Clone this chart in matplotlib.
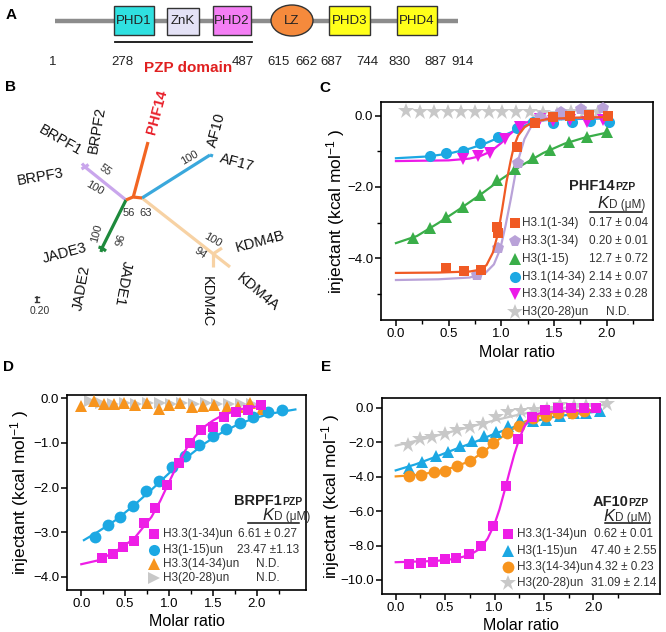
import numpy as np
import matplotlib
matplotlib.use("Agg")
from matplotlib import pyplot as plt
from matplotlib.patches import Rectangle, Ellipse

plt.rcParams['font.family'] = ['Liberation Sans', 'DejaVu Sans']
plt.rcParams['mathtext.fontset'] = 'custom'
plt.rcParams['mathtext.rm'] = 'Liberation Sans'
plt.rcParams['mathtext.it'] = 'Liberation Sans:italic'

# ---------------- data ----------------
# A: PHF14 domain architecture
domain_names = ['PHD1', 'ZnK', 'PHD2', 'LZ', 'PHD3', 'PHD4']
domain_colors = ['#2fe0e0', '#e4e2f6', '#f47ef4', '#f58a3c', '#ffff1a', '#ffff1a']
residue_marks = ['1', '278', '487', '615', '662', '687', '744', '830', '887', '914']

# B: tree leaves and bootstrap values
leaf_names = ['PHF14', 'AF10', 'AF17', 'BRPF1', 'BRPF2', 'BRPF3',
              'JADE1', 'JADE2', 'JADE3', 'KDM4A', 'KDM4B', 'KDM4C']
bootstrap = ['55', '100', '100', '56', '63', '100', '96', '100', '94']

# C: PHF14 PZP
c_names = ['H3.1(1-34)', 'H3.3(1-34)', 'H3(1-15)', 'H3.1(14-34)', 'H3.3(14-34)', 'H3(20-28)un']
c_kd = ['0.17 ± 0.04', '0.20 ± 0.01', '12.7 ± 0.72', '2.14 ± 0.07', '2.33 ± 0.28', 'N.D.']

c_h31_x = [0.48, 0.645, 0.81, 0.955, 0.97, 1.146, 1.32, 1.49, 1.65, 1.83, 2.01]
c_h31_y = [-4.29, -4.37, -4.34, -3.12, -3.29, -0.86, -0.21, -0.04, 0.0, 0.03, 0.0]
c_h31_fx = [0, 0.4, 0.7, 0.8, 0.86, 0.92, 0.97, 1.01, 1.05, 1.09, 1.12, 1.16, 1.22, 1.3, 1.45, 1.7, 2.0]
c_h31_fy = [-4.42, -4.41, -4.38, -4.33, -4.2, -3.85, -3.3, -2.6, -1.85, -1.25, -0.86, -0.55, -0.32, -0.17, -0.08, -0.05, -0.03]

c_h33_x = [0.766, 0.97, 1.16, 1.37, 1.57, 1.76, 1.97]
c_h33_y = [-4.48, -3.73, -1.33, -0.02, 0.12, 0.19, 0.22]
c_h33_fx = [0, 0.4, 0.7, 0.85, 0.93, 0.99, 1.04, 1.09, 1.13, 1.17, 1.22, 1.28, 1.35, 1.5, 1.7, 2.0]
c_h33_fy = [-4.62, -4.6, -4.55, -4.42, -4.18, -3.75, -3.1, -2.35, -1.7, -1.15, -0.65, -0.32, -0.15, -0.07, -0.05, -0.04]

c_h3_15_x = [0.165, 0.32, 0.475, 0.64, 0.8, 0.96, 1.13, 1.3, 1.46, 1.64, 1.81, 2.0]
c_h3_15_y = [-3.45, -3.16, -2.84, -2.55, -2.23, -1.8, -1.5, -1.17, -0.96, -0.72, -0.58, -0.45]
c_h3_15_fx = [0, 0.2, 0.4, 0.6, 0.8, 1.0, 1.2, 1.4, 1.6, 1.8, 2.0]
c_h3_15_fy = [-3.58, -3.38, -3.02, -2.63, -2.22, -1.78, -1.38, -1.04, -0.78, -0.6, -0.47]

c_h31b_x = [0.32, 0.475, 0.64, 0.8, 0.97, 1.146, 1.3, 1.49, 1.67, 1.84, 2.02]
c_h31b_y = [-1.13, -1.03, -0.98, -0.77, -0.6, -0.35, -0.16, -0.19, -0.16, -0.13, -0.17]
c_h31b_fx = [0, 0.3, 0.5, 0.7, 0.85, 1.0, 1.1, 1.2, 1.3, 1.4, 1.6, 2.0]
c_h31b_fy = [-1.19, -1.14, -1.06, -0.92, -0.77, -0.58, -0.45, -0.3, -0.18, -0.12, -0.09, -0.07]

c_h33b_x = [0.64, 0.78, 0.89, 1.035, 1.18, 1.37, 1.49, 1.65, 1.81, 1.97]
c_h33b_y = [-1.22, -1.13, -1.03, -0.66, -0.3, -0.09, -0.13, -0.11, -0.16, -0.11]
c_h33b_fx = [0, 0.5, 0.7, 0.8, 0.9, 1.0, 1.08, 1.15, 1.22, 1.3, 1.45, 1.7, 2.05]
c_h33b_fy = [-1.27, -1.25, -1.2, -1.13, -1.0, -0.76, -0.52, -0.34, -0.2, -0.12, -0.07, -0.06, -0.05]

c_h3_20_x = [0.1, 0.23, 0.36, 0.49, 0.62, 0.75, 0.88, 1.01, 1.14, 1.27, 1.4, 1.53, 1.66, 1.79, 1.92]
c_h3_20_y = [0.13, 0.12, 0.12, 0.12, 0.12, 0.12, 0.12, 0.12, 0.12, 0.12, 0.08, 0.06, 0.1, 0.1, 0.1]

# D: BRPF1 PZP
d_names = ['H3.3(1-34)un', 'H3(1-15)un', 'H3.3(14-34)un', 'H3(20-28)un']
d_kd = ['6.61 ± 0.27', '23.47 ±1.13', 'N.D.', 'N.D.']

d_h33_x = [0.235, 0.357, 0.474, 0.596, 0.717, 0.84, 0.975, 1.108, 1.24, 1.366, 1.5, 1.628, 1.765, 1.905, 2.045]
d_h33_y = [-3.57, -3.48, -3.33, -3.19, -2.79, -2.47, -1.94, -1.46, -1.01, -0.71, -0.64, -0.43, -0.3, -0.26, -0.15]
d_h33_fx = [0, 0.2, 0.4, 0.6, 0.8, 0.9, 1.0, 1.1, 1.2, 1.3, 1.4, 1.5, 1.6, 1.8, 2.0, 2.06]
d_h33_fy = [-3.72, -3.63, -3.42, -3.15, -2.66, -2.3, -1.88, -1.47, -1.12, -0.85, -0.64, -0.5, -0.39, -0.25, -0.18, -0.17]

d_h3_15_x = [0.16, 0.3, 0.444, 0.588, 0.736, 0.88, 1.03, 1.18, 1.343, 1.5, 1.65, 1.81, 1.96, 2.13, 2.29]
d_h3_15_y = [-3.12, -2.84, -2.67, -2.41, -2.07, -1.85, -1.53, -1.29, -1.05, -0.845, -0.69, -0.56, -0.43, -0.31, -0.26]
d_h3_15_fx = [0.03, 0.2, 0.4, 0.6, 0.8, 1.0, 1.2, 1.4, 1.6, 1.8, 2.0, 2.2, 2.44]
d_h3_15_fy = [-3.18, -2.98, -2.72, -2.4, -2.05, -1.68, -1.33, -1.02, -0.77, -0.57, -0.43, -0.33, -0.25]

d_h33b_x = [0.0, 0.14, 0.254, 0.376, 0.49, 0.615, 0.748, 0.88, 0.994, 1.127, 1.26, 1.385, 1.51, 1.66, 1.79, 1.925, 2.057]
d_h33b_y = [-0.17, -0.06, -0.13, -0.13, -0.1, -0.15, -0.1, -0.25, -0.15, -0.1, -0.19, -0.17, -0.15, -0.2, -0.2, -0.11, -0.25]

d_h3_20_x = [0.1, 0.23, 0.36, 0.5, 0.62, 0.76, 0.9, 1.02, 1.15, 1.28, 1.42, 1.55, 1.68, 1.82, 1.95]
d_h3_20_y = [-0.07, -0.1, -0.12, -0.1, -0.12, -0.1, -0.1, -0.12, -0.1, -0.12, -0.1, -0.12, -0.12, -0.13, -0.12]

# E: AF10 PZP
e_names = ['H3.3(1-34)un', 'H3(1-15)un', 'H3.3(14-34)un', 'H3(20-28)un']
e_kd = ['0.62 ± 0.01', '47.40 ± 2.55', '4.32 ± 0.23', '31.09 ± 2.14']

e_h33_x = [0.135, 0.26, 0.378, 0.497, 0.615, 0.743, 0.868, 0.986, 1.12, 1.24, 1.375, 1.51, 1.645, 1.77, 1.905, 2.03]
e_h33_y = [-9.09, -9.03, -8.97, -8.8, -8.7, -8.5, -8.02, -6.85, -4.56, -1.81, -0.52, -0.14, -0.02, -0.02, -0.02, -0.02]
e_h33_fx = [0, 0.4, 0.6, 0.75, 0.85, 0.93, 1.0, 1.05, 1.1, 1.15, 1.2, 1.25, 1.3, 1.36, 1.45, 1.6, 1.8, 2.07]
e_h33_fy = [-8.97, -8.9, -8.78, -8.55, -8.2, -7.6, -6.75, -5.9, -4.85, -3.75, -2.7, -1.8, -1.1, -0.6, -0.32, -0.2, -0.16, -0.15]

e_h3_15_x = [0.135, 0.27, 0.405, 0.53, 0.65, 0.767, 0.89, 1.01, 1.14, 1.26, 1.39, 1.52, 1.66, 1.8, 1.925, 2.07]
e_h3_15_y = [-3.5, -3.17, -2.78, -2.56, -2.23, -1.94, -1.61, -1.42, -1.07, -0.68, -0.78, -0.68, -0.45, -0.29, -0.29, -0.19]
e_h3_15_fx = [0, 0.2, 0.4, 0.6, 0.8, 1.0, 1.2, 1.4, 1.6, 1.8, 2.07]
e_h3_15_fy = [-3.63, -3.28, -2.85, -2.4, -1.98, -1.5, -1.1, -0.78, -0.52, -0.35, -0.2]

e_h33b_x = [0.135, 0.26, 0.385, 0.497, 0.62, 0.75, 0.87, 0.986, 1.128, 1.25, 1.385, 1.52, 1.645, 1.78, 1.905]
e_h33b_y = [-3.98, -3.88, -3.75, -3.65, -3.36, -3.07, -2.58, -2.04, -1.46, -1.07, -0.58, -0.45, -0.29, -0.29, -0.16]
e_h33b_fx = [0, 0.2, 0.4, 0.5, 0.6, 0.7, 0.8, 0.9, 1.0, 1.1, 1.2, 1.3, 1.4, 1.5, 1.7, 2.07]
e_h33b_fy = [-3.98, -3.9, -3.73, -3.6, -3.42, -3.2, -2.9, -2.5, -2.02, -1.57, -1.17, -0.82, -0.55, -0.37, -0.2, -0.1]

e_h3_20_x = [0.125, 0.25, 0.37, 0.497, 0.62, 0.75, 0.88, 1.01, 1.14, 1.27, 1.4, 1.53, 1.66, 1.8, 1.93, 2.135]
e_h3_20_y = [-2.14, -1.81, -1.69, -1.5, -1.26, -1.11, -0.93, -0.52, -0.25, -0.16, -0.1, -0.06, 0.19, 0.14, 0.1, 0.25]
e_h3_20_fx = [0, 0.25, 0.5, 0.75, 1.0, 1.25, 1.5, 1.75, 2.0, 2.15]
e_h3_20_fy = [-2.19, -1.85, -1.48, -1.1, -0.72, -0.38, -0.12, 0.04, 0.14, 0.19]

# ---------------- figure ----------------
W, H = 666, 632
fig = plt.figure(figsize=(6.66, 6.32), dpi=100)
bg = fig.add_axes([0, 0, 1, 1])
bg.set_xlim(0, W)
bg.set_ylim(H, 0)
bg.axis('off')

def px_axes(l, t, r, b):
    return fig.add_axes([l / W, 1 - b / H, (r - l) / W, (b - t) / H])

for lab, x, y in [('A', 11, 15), ('B', 11, 87), ('C', 325, 88), ('D', 8, 367), ('E', 326, 367)]:
    bg.text(x, y, lab, ha='center', va='center', fontsize=11, fontweight='bold')

# ---- A ----
bg.plot([55, 458], [21, 21], color='#8c8c8c', lw=3.2, solid_capstyle='butt', zorder=1)
slots = [(114, 154), (167, 199), (213, 251), (271, 313), (329, 370), (397, 437)]
for name, col, (x0, x1) in zip(domain_names, domain_colors, slots):
    if name == 'LZ':
        bg.add_patch(Ellipse(((x0 + x1) / 2, 20.5), x1 - x0, 31, fc=col, ec='#333333', lw=1, zorder=2))
    else:
        top = 8 if name == 'ZnK' else 6
        bg.add_patch(Rectangle((x0, top), x1 - x0, 35 - top, fc=col, ec='#333333', lw=1, zorder=2))
    bg.text((x0 + x1) / 2, 21, name, ha='center', va='center', fontsize=9.5, color='#222222', zorder=3)
for s, x in zip(residue_marks, [53, 122, 243, 279, 306, 331, 367, 399, 435, 463]):
    bg.text(x, 62, s, ha='center', va='center', fontsize=9.5, color='#222222')
bg.plot([115, 252], [42, 42], color='#111111', lw=1.3)
bg.text(188, 68, 'PZP domain', ha='center', va='center', fontsize=11, fontweight='bold', color='#e02020')

# ---- B: tree ----
purple, orange, blue, green, tan = '#c9a6ec', '#f26522', '#3aa8dc', '#1e8a3c', '#f7d2a4'
branches = [
    (tan, [(142, 198), (230, 267)]), (tan, [(213, 254), (222, 248)]), (tan, [(213, 254), (213, 267)]),
    (purple, [(126, 200), (85, 167)]), (purple, [(85, 167), (82, 163.5)]),
    (purple, [(85, 167), (88.5, 164.5)]), (purple, [(85, 167), (81.5, 169)]),
    (blue, [(142, 198), (210, 155)]), (blue, [(210, 155), (213, 156)]),
    (green, [(126, 200), (102, 248)]), (green, [(102, 248), (98.5, 247)]),
    (green, [(102, 248), (101, 252)]), (green, [(102, 248), (106, 251)]),
    (orange, [(133, 198), (148, 142)]), (orange, [(126, 200), (133, 197), (142, 198)]),
]
for col, pts in branches:
    xs, ys = zip(*pts)
    bg.plot(xs, ys, color=col, lw=2.3, solid_capstyle='butt', zorder=2)

leaf_pos = {'PHF14': (157, 112, 75), 'AF10': (217, 130, 75), 'AF17': (237, 163, -15),
            'BRPF1': (60, 140, -30), 'BRPF2': (97, 130, 80), 'BRPF3': (40, 177, 10),
            'JADE1': (123, 283, -100), 'JADE2': (82, 288, 80), 'JADE3': (65, 253, 15),
            'KDM4A': (258, 292, -40), 'KDM4B': (260, 242, 15), 'KDM4C': (207, 302, -90)}
for name in leaf_names:
    x, y, r = leaf_pos[name]
    if name == 'PHF14':
        bg.text(x, y, name, ha='center', va='center', rotation=r, fontsize=10.5,
                fontweight='bold', color='#e8202a')
    else:
        bg.text(x, y, name, ha='center', va='center', rotation=r, fontsize=10.5, color='#111111')

boot_pos = [(105, 170, -35), (95, 188, -30), (190, 158, 30), (129, 213, 0), (146, 213, 0),
            (97, 233, 75), (117, 240, -105), (213, 240, -30), (200, 253, -35)]
for s, (x, y, r) in zip(bootstrap, boot_pos):
    bg.text(x, y, s, ha='center', va='center', rotation=r, fontsize=8, color='#333333')
bg.plot([37, 37], [297, 302], color='#333333', lw=1.2)
bg.plot([35, 39], [297, 297], color='#333333', lw=1)
bg.plot([35, 39], [302, 302], color='#333333', lw=1)
bg.text(40, 311, '0.20', ha='center', va='center', fontsize=7.5, color='#333333')

# ---- ITC panels ----
def style(ax, xlim, ylim, yt, ylab, ymin=None, xpad=3):
    ax.set_xlim(*xlim)
    ax.set_ylim(*ylim)
    ax.set_xticks([0, 0.5, 1.0, 1.5, 2.0])
    ax.set_xticklabels(['0.0', '0.5', '1.0', '1.5', '2.0'])
    ax.set_xticks(np.arange(0, 2.3, 0.25), minor=True)
    ax.set_yticks(yt)
    ax.set_yticklabels(ylab)
    if ymin is not None:
        ax.set_yticks(ymin, minor=True)
    for s in ['top', 'right', 'left', 'bottom']:
        ax.spines[s].set_linewidth(1.2)
    ax.tick_params(which='major', direction='out', length=4, width=1.1, labelsize=9.5, pad=1.5)
    ax.tick_params(which='minor', direction='out', length=3, width=1.0)
    ax.set_xlabel('Molar ratio', fontsize=11.5, labelpad=xpad)
    ax.set_ylabel('injectant (kcal mol$^{-1}$ )', fontsize=12.5)

def table(ax, title, tb, kx, kb, ul, rows, mx, nx, vx, vha, names, vals, mks, ndx=None):
    ax.text(tb[0], tb[1], title, transform=ax.transAxes, ha='right',
            va='baseline', fontsize=10.5, fontweight='bold', color='#222222')
    ax.text(tb[0], tb[1], 'PZP', transform=ax.transAxes, ha='left', va='baseline',
            fontsize=7.5, fontweight='bold', color='#222222')
    ax.text(kx, kb, 'K', transform=ax.transAxes, ha='right', va='baseline', fontsize=12,
            fontstyle='italic', color='#222222')
    ax.text(kx, kb, 'D (μM)', transform=ax.transAxes, ha='left', va='baseline', fontsize=8.5,
            color='#333333')
    ax.plot(ul[:2], [ul[2], ul[2]], transform=ax.transAxes, color='#111111', lw=1.1, clip_on=False)
    for y, n, v, (m, c, s) in zip(rows, names, vals, mks):
        ax.plot([mx], [y], marker=m, color=c, ms=s, mew=0, transform=ax.transAxes, clip_on=False)
        ax.text(nx, y, n, transform=ax.transAxes, ha='left', va='center', fontsize=8.5, color='#333333')
        if v == 'N.D.' and ndx is not None:
            ax.text(ndx, y, v, transform=ax.transAxes, ha='center', va='center', fontsize=8.5,
                    color='#333333')
        else:
            ax.text(vx, y, v, transform=ax.transAxes, ha=vha, va='center', fontsize=8.5,
                    color='#333333')

def series(ax, x, y, m, c, s, fx=None, fy=None, z=3):
    if fx is not None:
        ax.plot(fx, fy, color=c, lw=1.6, zorder=z)
    ax.plot(x, y, ls='none', marker=m, color=c, ms=s, mew=0, zorder=z + 0.5)

# C
axc = px_axes(381, 102, 653, 320)
c_red, c_lav, c_grn, c_blu, c_mag, c_gry = '#f05a24', '#b9a2d8', '#3aae49', '#1ca8e3', '#ec1ae8', '#c8c8c8'
series(axc, c_h3_20_x, c_h3_20_y, '*', c_gry, 12, z=2)
series(axc, c_h31b_x, c_h31b_y, 'o', c_blu, 8, c_h31b_fx, c_h31b_fy)
series(axc, c_h33b_x, c_h33b_y, 'v', c_mag, 8, c_h33b_fx, c_h33b_fy)
series(axc, c_h3_15_x, c_h3_15_y, '^', c_grn, 8.5, c_h3_15_fx, c_h3_15_fy)
series(axc, c_h33_x, c_h33_y, 'p', c_lav, 9, c_h33_fx, c_h33_fy)
series(axc, c_h31_x, c_h31_y, 's', c_red, 7.5, c_h31_fx, c_h31_fy, z=4)
style(axc, (-0.142, 2.441), (-5.746, 0.394), [0, -2, -4], ['0.0', '\u22122.0', '\u22124.0'], [-1, -3, -5], xpad=4)
axc.yaxis.set_label_coords(-0.125, 0.5)
table(axc, 'PHF14', (0.86, 0.596), 0.838, 0.514, (0.768, 0.96, 0.495),
      [0.445, 0.362, 0.280, 0.197, 0.119, 0.037], 0.493, 0.518, 0.765, 'left', c_names, c_kd,
      [('s', c_red, 7), ('p', c_lav, 8.5), ('^', c_grn, 8), ('o', c_blu, 8), ('v', c_mag, 8), ('*', c_gry, 12)],
      ndx=0.87)

# D
axd = px_axes(67, 395, 306, 590)
d_mag, d_blu, d_org, d_gry = '#ee1ee6', '#1ca8e3', '#f7941d', '#c8c8c8'
series(axd, d_h3_20_x, d_h3_20_y, '>', d_gry, 9, z=2)
series(axd, d_h33b_x, d_h33b_y, '^', d_org, 9)
series(axd, d_h3_15_x, d_h3_15_y, 'o', d_blu, 8.5, d_h3_15_fx, d_h3_15_fy)
series(axd, d_h33_x, d_h33_y, 's', d_mag, 7, d_h33_fx, d_h33_fy, z=4)
style(axd, (-0.163, 2.561), (-4.298, 0.074), [0, -1, -2, -3, -4],
      ['0.0', '\u22121.0', '\u22122.0', '\u22123.0', '\u22124.0'])
axd.yaxis.set_label_coords(-0.15, 0.5)
table(axd, 'BRPF1', (0.90, 0.436), 0.866, 0.359, (0.757, 0.971, 0.342),
      [0.286, 0.205, 0.132, 0.060], 0.364, 0.402, 0.841, 'center', d_names, d_kd,
      [('s', d_mag, 7), ('o', d_blu, 8), ('^', d_org, 8.5), ('>', d_gry, 9)])

# E
axe = px_axes(382, 398, 660, 594)
e_mag, e_blu, e_org, e_gry = '#ee1ee6', '#1ca8e3', '#f7941d', '#c8c8c8'
series(axe, e_h3_20_x, e_h3_20_y, '*', e_gry, 12, e_h3_20_fx, e_h3_20_fy, z=2)
series(axe, e_h3_15_x, e_h3_15_y, '^', e_blu, 8.5, e_h3_15_fx, e_h3_15_fy)
series(axe, e_h33b_x, e_h33b_y, 'o', e_org, 8.5, e_h33b_fx, e_h33b_fy)
series(axe, e_h33_x, e_h33_y, 's', e_mag, 7, e_h33_fx, e_h33_fy, z=4)
style(axe, (-0.139, 2.675), (-10.82, 0.58), [0, -2, -4, -6, -8, -10],
      ['0.0', '\u22122.0', '\u22124.0', '\u22126.0', '\u22128.0', '\u221210.0'])
axe.yaxis.set_label_coords(-0.145, 0.5)
table(axe, 'AF10', (0.887, 0.45), 0.838, 0.374, (0.802, 0.964, 0.364),
      [0.305, 0.219, 0.136, 0.058], 0.453, 0.486, 0.87, 'center', e_names, e_kd,
      [('s', e_mag, 7), ('^', e_blu, 8.5), ('o', e_org, 8.5), ('*', e_gry, 12)])

fig.savefig('out.png', dpi=100)
